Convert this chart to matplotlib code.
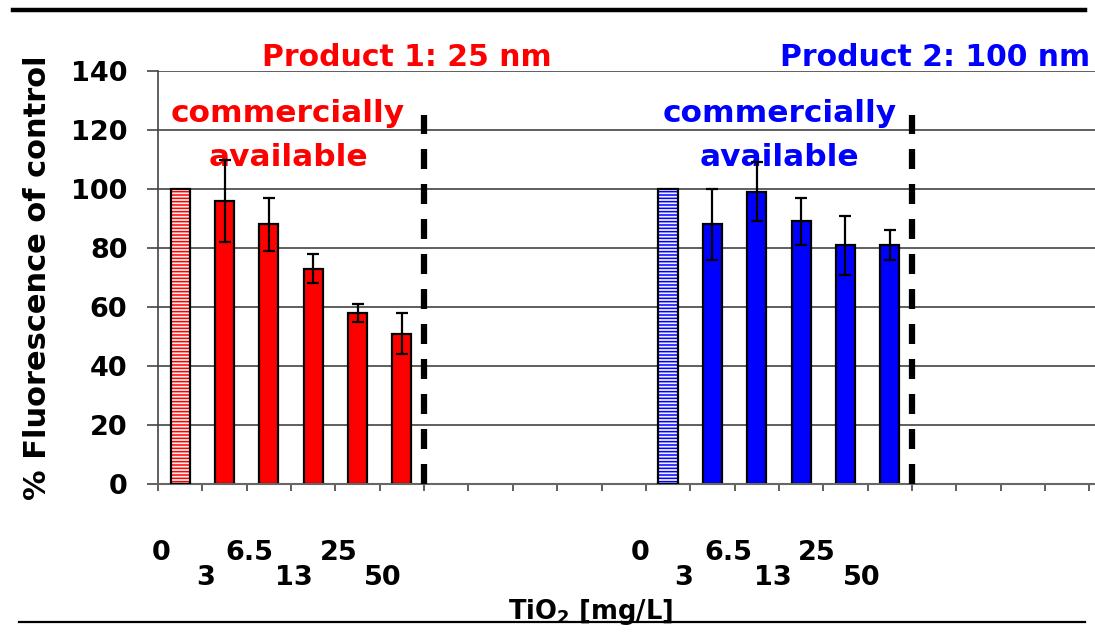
import matplotlib
matplotlib.use("Agg")
import matplotlib.pyplot as plt
from matplotlib.lines import Line2D
from matplotlib.transforms import blended_transform_factory

plt.rcParams['font.family'] = ['DejaVu Sans']
plt.rcParams['font.weight'] = 'bold'
plt.rcParams['mathtext.fontset'] = 'dejavusans'
plt.rcParams['hatch.linewidth'] = 1.1

# ---- data ----
doses = ['0', '3', '6.5', '13', '25', '50']
p1_means = [100, 96, 88, 73, 58, 51]
p1_err = [0, 14, 9, 5, 3, 7]
p2_means = [100, 88, 99, 89, 81, 81]
p2_err = [0, 12, 10, 8, 10, 5]
yticks = [0, 20, 40, 60, 80, 100, 120, 140]

RED = '#FF0000'
BLUE = '#0000FF'

fig = plt.figure(figsize=(10.95, 6.32), dpi=100)
W, H = 1095, 632
ax_left, ax_bottom_px, ax_top_px = 158, 484, 71
ax = fig.add_axes([ax_left / W, (H - ax_bottom_px) / H, 1 - ax_left / W,
                   (ax_bottom_px - ax_top_px) / H])

slot = 44.35
ax.set_xlim(0, (W - ax_left) / slot)
ax.set_ylim(0, 140)

bw = 0.43


def draw_group(start, means, errs, color, hatch_face):
    pos = [start + i + 0.5 for i in range(len(means))]
    # control bar (hatched)
    ax.bar(pos[0], means[0], width=bw, facecolor=hatch_face, edgecolor=color,
           hatch='-----', linewidth=0, zorder=2)
    ax.bar(pos[0], means[0], width=bw, fill=False, edgecolor='black',
           linewidth=1.6, zorder=3)
    # treatment bars
    ax.bar(pos[1:], means[1:], width=bw, color=color, edgecolor='black',
           linewidth=1.6, zorder=2)
    ax.errorbar(pos[1:], means[1:], yerr=errs[1:], fmt='none', ecolor='black',
                elinewidth=1.6, capsize=4, capthick=1.6, zorder=4)
    return pos


pos1 = draw_group(0, p1_means, p1_err, RED, '#FFF0F0')
pos2 = draw_group(11, p2_means, p2_err, BLUE, '#F0F0FF')

# dashed separators
ax.vlines([6, 17], 0, 125, colors='black', linewidth=4.5,
          linestyles=(0, (3.2, 2.4)), zorder=3)

# axes styling
ax.set_yticks(yticks)
ax.set_yticklabels([str(v) for v in yticks])
ax.set_xticks(range(0, 22))
ax.set_xticklabels([])
ax.tick_params(axis='y', direction='out', length=8, width=1.2, colors='#444',
               labelcolor='black', labelsize=19.5, pad=14)
ax.tick_params(axis='x', direction='out', length=5, width=1.2, colors='#444')
for lab in ax.get_yticklabels():
    lab.set_fontweight('bold')
ax.spines['top'].set_visible(False)
ax.spines['right'].set_visible(False)
ax.spines['left'].set_color('#444')
ax.spines['bottom'].set_color('#666')
ax.spines['left'].set_linewidth(1.2)
ax.spines['bottom'].set_linewidth(1.5)
ax.yaxis.grid(True, color='#333', linewidth=1.1)
ax.set_axisbelow(True)

ax.set_ylabel('% Fluorescence of control', fontsize=22, fontweight='bold')
ax.yaxis.set_label_coords(-(ax_left - 52) / (W - ax_left), 0.5)

# staggered dose labels
trans = blended_transform_factory(ax.transData, ax.transAxes)
levels = [-0.167, -0.228]
for pos, off in ((pos1, -0.43), (pos2, -0.64)):
    for i, (p, lab) in enumerate(zip(pos, doses)):
        ax.text(p + off, levels[i % 2], lab, transform=trans, ha='center',
                va='center', fontsize=19.5, fontweight='bold', clip_on=False)

# group annotations
ax.text(5.61, 140 + (71 - 57) / 2.95, 'Product 1: 25 nm', color=RED,
        fontsize=21.5, fontweight='bold', ha='center', va='center')
ax.text(14.02, 140 + (71 - 57) / 2.95, 'Product 2: 100 nm', color=BLUE,
        fontsize=21.5, fontweight='bold', ha='left', va='center', clip_on=False)
for cx, col in ((2.93, RED), (14.02, BLUE)):
    ax.text(cx, (484 - 113) / 2.95, 'commercially', color=col, fontsize=22.5,
            fontweight='bold', ha='center', va='center')
    ax.text(cx, (484 - 157) / 2.95, 'available', color=col, fontsize=22.5,
            fontweight='bold', ha='center', va='center')

# x axis title
fig.text(591 / W, 1 - 619 / H, r'TiO$_{\mathbf{2}}$ [mg/L]', fontsize=18.5,
         fontweight='bold', ha='center', va='baseline')

# decorative horizontal rules
fig.add_artist(Line2D([13 / W, 1085 / W], [1 - 10 / H, 1 - 10 / H],
                      color='black', linewidth=3.2, zorder=10))
fig.add_artist(Line2D([19 / W, 1085 / W], [1 - 622 / H, 1 - 622 / H],
                      color='black', linewidth=1.6, zorder=10))

fig.savefig('out.png', dpi=100)
